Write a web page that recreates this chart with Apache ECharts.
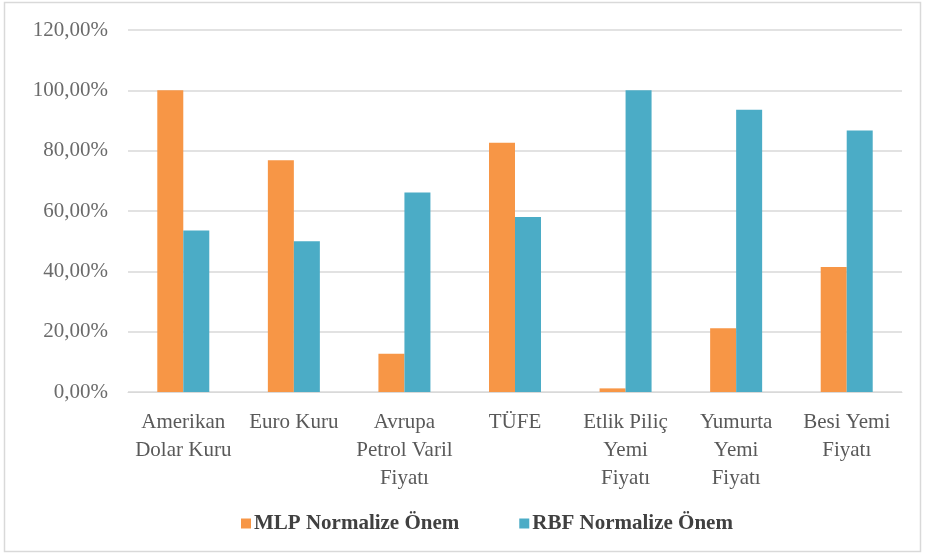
<!DOCTYPE html>
<html><head><meta charset="utf-8">
<script src="https://cdn.jsdelivr.net/npm/echarts@6/dist/echarts.min.js"></script>
<style>html,body{margin:0;padding:0;background:#fff}#c{width:926px;height:560px}</style>
</head><body><div id="c"></div>
<script>
const categories = ["Amerikan\nDolar Kuru", "Euro Kuru", "Avrupa\nPetrol Varil\nFiyatı", "TÜFE", "Etlik Piliç\nYemi\nFiyatı", "Yumurta\nYemi\nFiyatı", "Besi Yemi\nFiyatı"];
const mlpValues = [100, 76.8, 12.7, 82.6, 1.2, 21.1, 41.4];
const rbfValues = [53.5, 50.0, 66.1, 58.0, 100, 93.6, 86.7];
const seriesNames = ["MLP Normalize Önem", "RBF Normalize Önem"];

const chart = echarts.init(document.getElementById('c'), null, {renderer: 'canvas'});
const font = "'Liberation Serif', 'Times New Roman', serif";
chart.setOption({
  animation: false,
  textStyle: {fontFamily: font},
  graphic: [{
    type: 'rect', shape: {x: 4.5, y: 2.5, width: 916, height: 549},
    style: {fill: 'none', stroke: '#d9d9d9', lineWidth: 1.5}, silent: true, z: -1
  }],
  grid: {left: 128, right: 24, top: 30, bottom: 168},
  legend: {
    bottom: 21, left: 236, itemWidth: 10, itemHeight: 10, itemGap: 60,
    icon: 'rect',
    textStyle: {fontFamily: font, fontSize: 21, fontWeight: 'bold', color: '#404040', padding: [0,0,0,-2]},
    data: seriesNames
  },
  xAxis: {
    type: 'category', data: categories,
    axisLine: {lineStyle: {color: '#d9d9d9'}},
    axisTick: {show: false},
    axisLabel: {fontFamily: font, fontSize: 21, color: '#595959', lineHeight: 28, margin: 16, interval: 0}
  },
  yAxis: {
    type: 'value', min: 0, max: 120, interval: 20,
    axisLine: {show: false}, axisTick: {show: false},
    splitLine: {lineStyle: {color: '#d9d9d9', width: 1.5}},
    axisLabel: {fontFamily: font, fontSize: 21, color: '#6b6b6b', margin: 20,
      formatter: v => v.toFixed(2).replace('.', ',') + '%'}
  },
  series: [
    {name: seriesNames[0], type: 'bar', data: mlpValues, barWidth: 26, barGap: '0%', itemStyle: {color: '#F79646'}},
    {name: seriesNames[1], type: 'bar', data: rbfValues, barWidth: 26, barGap: '0%', itemStyle: {color: '#4BACC6'}}
  ]
});
</script></body></html>
